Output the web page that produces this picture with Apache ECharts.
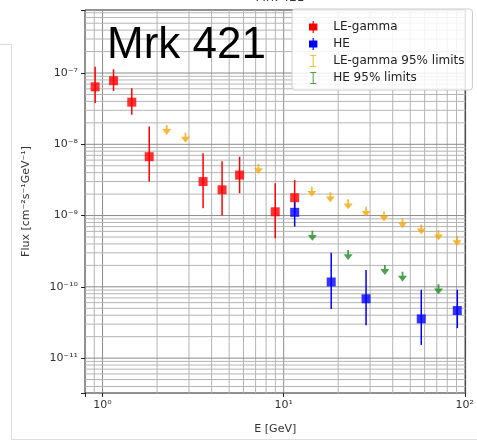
<!DOCTYPE html>
<html>
<head>
<meta charset="utf-8">
<script src="https://cdn.jsdelivr.net/npm/echarts@6/dist/echarts.min.js"></script>
<style>html,body{margin:0;padding:0;background:#fff;}#c{width:477px;height:444px;}</style>
</head>
<body>
<div id="c"></div>
<script>
// ---- data ----
const leE  = [0.91, 1.15, 1.45, 1.81, 3.59, 4.57, 5.71, 8.98, 11.5];
const leF  = [6.4e-8, 7.8e-8, 3.9e-8, 6.7e-9, 3.0e-9, 2.3e-9, 3.7e-9, 1.13e-9, 1.78e-9];
const leLo = [3.8e-8, 5.6e-8, 2.6e-8, 3.0e-9, 1.27e-9, 1.0e-9, 2.06e-9, 4.8e-10, 1.1e-9];
const leHi = [1.22e-7, 1.13e-7, 6.1e-8, 1.77e-8, 7.5e-9, 5.8e-9, 6.7e-9, 2.84e-9, 3.16e-9];

const heE  = [11.5, 18.3, 28.5, 57.5, 90.9];
const heF  = [1.11e-9, 1.17e-10, 6.8e-11, 3.55e-11, 4.65e-11];
const heLo = [7.0e-10, 4.9e-11, 2.9e-11, 1.53e-11, 2.63e-11];
const heHi = [1.6e-9, 3.0e-10, 1.73e-10, 9.1e-11, 9.1e-11];

const leLimE = [2.26, 2.87, 7.25, 14.3, 18.1, 22.7, 28.5, 35.8, 45.3, 57.5, 71.6, 90.6];
const leLimF = [1.59e-8, 1.24e-8, 4.5e-9, 2.16e-9, 1.8e-9, 1.44e-9, 1.13e-9, 9.7e-10, 7.8e-10, 6.4e-10, 5.3e-10, 4.4e-10];
const heLimE = [14.4, 22.7, 36.2, 45.3, 71.6];
const heLimF = [5.2e-10, 2.8e-10, 1.73e-10, 1.39e-10, 9.25e-11];

const seriesNames = ['LE-gamma', 'HE', 'LE-gamma 95% limits', 'HE 95% limits'];
const xRange = [0.8, 101];
const yRange = [3.24e-12, 7.66e-7];
const title = 'Mrk 421';
const xName = 'E [GeV]';
const yName = 'Flux [cm\u207B\u00B2s\u207B\u00B9GeV\u207B\u00B9]';

// ---- styles ----
const RED = '#ff0000', BLUE = '#0000ff', ORANGE = '#f5a800', GREEN = '#1f8a1f';
const FONT = 'DejaVu Sans';
const SUP = {'-':'\u207B','0':'\u2070','1':'\u00B9','2':'\u00B2','3':'\u00B3','4':'\u2074','5':'\u2075','6':'\u2076','7':'\u2077','8':'\u2078','9':'\u2079'};
function powLabel(v){
  const l = Math.log10(v), e = Math.round(l);
  if (Math.abs(l - e) > 1e-6) return '';
  return '10' + String(e).split('').map(c => SUP[c]).join('');
}
const ARROW = 'path://M4,0 L6,0 L6,5 L10,5 L5,12 L0,5 L4,5 Z';
const ERRICON = 'path://M3,0 h1 v2 h3 v6 h-3 v2 h-1 v-2 h-3 v-6 h3 z';
const LIMICON = 'path://M0,0 h6 v1 h-2.5 v10 h2.5 v1 h-6 v-1 h2.5 v-10 h-2.5 z';

// log grid positions (major + minor) inside a range
function logGrid(range){
  const out = [];
  const d0 = Math.floor(Math.log10(range[0])), d1 = Math.ceil(Math.log10(range[1]));
  for (let d = d0; d <= d1; d++) for (let m = 1; m <= 9; m++) {
    const v = m * Math.pow(10, d);
    if (v < range[0] * 1.0001 || v > range[1] * 0.9999) continue;
    out.push([v, m === 1 ? 1 : 0]);
  }
  return out;
}
function gridSeries(vertical){
  const vals = logGrid(vertical ? xRange : yRange);
  return {
    type: 'custom', silent: true, z: 1, clip: true,
    data: vals.map(v => vertical ? [v[0], yRange[0], v[1]] : [xRange[0], v[0], v[1]]),
    renderItem: function(params, api){
      const cs = params.coordSys;
      const p = api.coord([api.value(0), api.value(1)]);
      const major = api.value(2) === 1;
      const shape = vertical
        ? {x1: p[0], y1: cs.y, x2: p[0], y2: cs.y + cs.height}
        : {x1: cs.x, y1: p[1], x2: cs.x + cs.width, y2: p[1]};
      return {type: 'line', shape, style: {stroke: major ? '#8a8a8a' : '#b4b4b4', lineWidth: 1}};
    }
  };
}

function errSeries(name, xs, lo, hi, color){
  return {
    name, type: 'custom', z: 3,
    data: xs.map((x, i) => [x, lo[i], hi[i]]),
    encode: {x: 0, y: [1, 2]},
    renderItem: function(params, api){
      const a = api.coord([api.value(0), api.value(2)]);
      const b = api.coord([api.value(0), api.value(1)]);
      return {type: 'line', shape: {x1: a[0], y1: a[1], x2: b[0], y2: b[1]}, style: {stroke: color, lineWidth: 1.5}};
    }
  };
}

const chart = echarts.init(document.getElementById('c'), null, {renderer: 'canvas'});
chart.setOption({
  animation: false,
  backgroundColor: '#fff',
  graphic: [
    {type: 'polyline', silent: true, z: -10, shape: {points: [[0, 44.5], [11.5, 44.5], [11.5, 439.5], [477, 439.5]]}, style: {stroke: '#dedede', fill: null, lineWidth: 1}},
    {type: 'text', z: 10, style: {text: title, x: 280, y: -8, textAlign: 'center', fontSize: 12, fontFamily: FONT, fill: '#333'}},
    {type: 'text', z: 10, style: {text: title, x: 107, y: 24, fontSize: 44, fontFamily: 'Liberation Sans', fill: '#000'}}
  ],
  grid: {left: 85, top: 10, right: 1, bottom: 51, show: true, borderColor: '#222', borderWidth: 1, backgroundColor: '#fff'},
  legend: {
    orient: 'vertical', left: 292, top: 9,
    itemWidth: 30, itemHeight: 12, itemGap: 5,
    padding: [12, 8, 6, 17],
    backgroundColor: 'rgba(255,255,255,0.85)', borderColor: '#cccccc', borderWidth: 1, borderRadius: 3,
    textStyle: {fontSize: 12, fontFamily: FONT, color: '#222'},
    data: [
      {name: seriesNames[0], icon: ERRICON, itemStyle: {color: RED}},
      {name: seriesNames[1], icon: ERRICON, itemStyle: {color: BLUE}},
      {name: seriesNames[2], icon: LIMICON, itemStyle: {color: ORANGE}},
      {name: seriesNames[3], icon: LIMICON, itemStyle: {color: GREEN}}
    ]
  },
  xAxis: {
    type: 'log', logBase: 10, min: xRange[0], max: xRange[1],
    axisLine: {show: false}, splitLine: {show: false},
    axisTick: {show: true, length: 4, lineStyle: {color: '#222'}},
    axisLabel: {formatter: powLabel, color: '#333', fontSize: 11, fontFamily: FONT, margin: 7},
    name: xName, nameLocation: 'middle', nameGap: 31,
    nameTextStyle: {fontSize: 11, fontFamily: FONT, color: '#333'}
  },
  yAxis: {
    type: 'log', logBase: 10, min: yRange[0], max: yRange[1],
    axisLine: {show: false}, splitLine: {show: false},
    axisTick: {show: true, length: 4, lineStyle: {color: '#222'}},
    axisLabel: {formatter: powLabel, color: '#333', fontSize: 11, fontFamily: FONT, margin: 7},
    name: yName, nameLocation: 'middle', nameGap: 53,
    nameTextStyle: {fontSize: 11, fontFamily: FONT, color: '#333'}
  },
  series: [
    gridSeries(true),
    gridSeries(false),
    errSeries(seriesNames[0], leE, leLo, leHi, RED),
    {name: seriesNames[0], type: 'scatter', z: 4, symbol: 'rect', symbolSize: 9, itemStyle: {color: RED}, data: leE.map((x, i) => [x, leF[i]])},
    errSeries(seriesNames[1], heE, heLo, heHi, BLUE),
    {name: seriesNames[1], type: 'scatter', z: 4, symbol: 'rect', symbolSize: 9, itemStyle: {color: BLUE}, data: heE.map((x, i) => [x, heF[i]])},
    {name: seriesNames[2], type: 'scatter', z: 4, symbol: ARROW, symbolSize: [9, 10], itemStyle: {color: ORANGE}, data: leLimE.map((x, i) => [x, leLimF[i]])},
    {name: seriesNames[3], type: 'scatter', z: 4, symbol: ARROW, symbolSize: [9, 10], itemStyle: {color: GREEN}, data: heLimE.map((x, i) => [x, heLimF[i]])}
  ]
});
</script>
</body>
</html>
